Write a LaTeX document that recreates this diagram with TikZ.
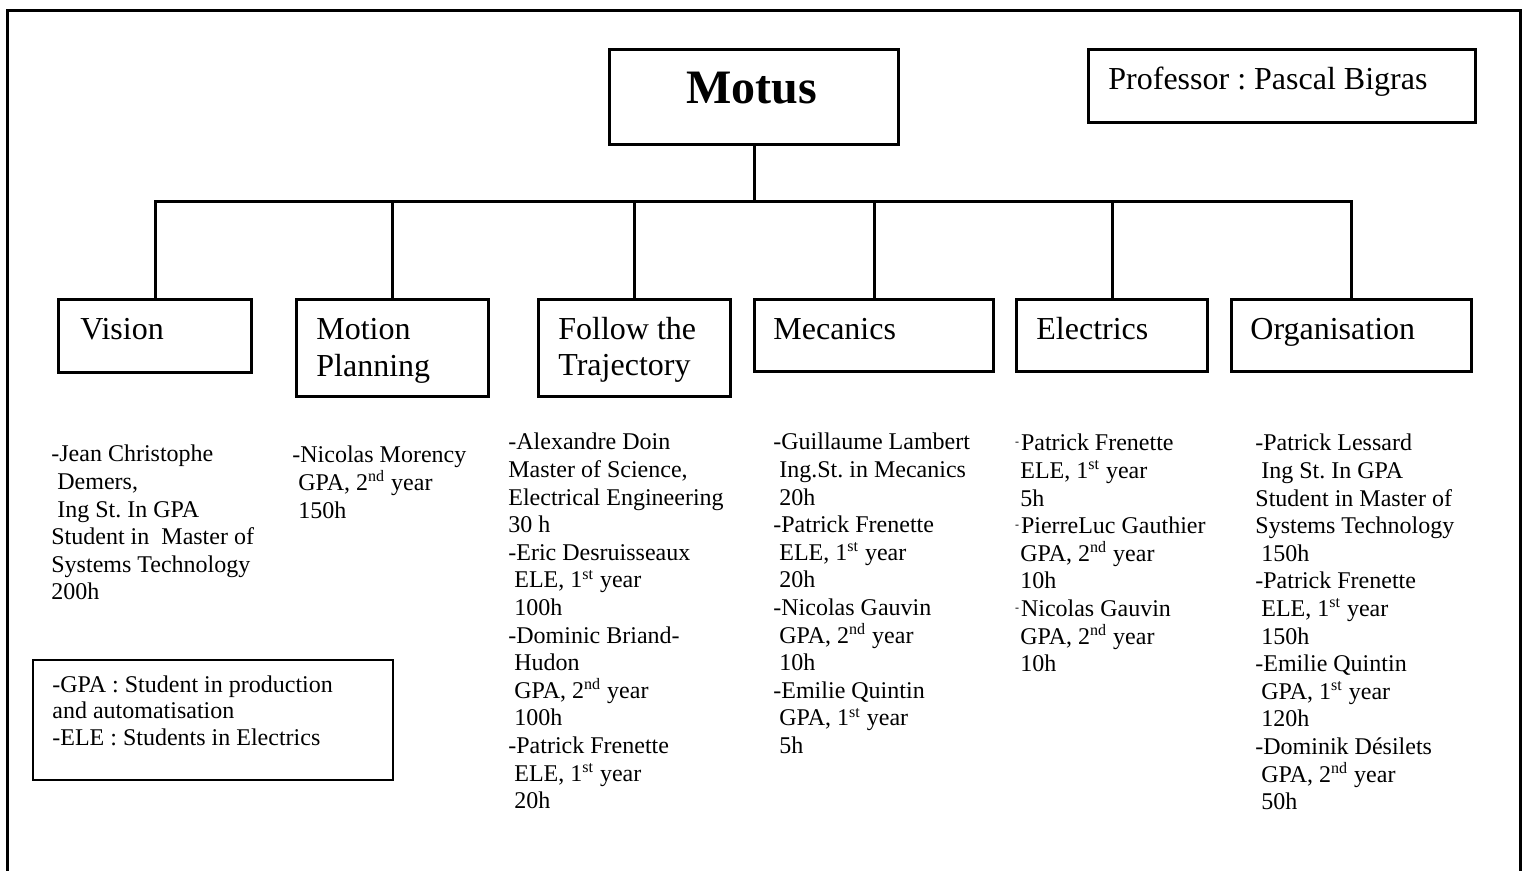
\documentclass[tikz,border=0pt]{standalone}
\usepackage{fontspec}
\setmainfont{Liberation Serif}
\usetikzlibrary{calc}
\frenchspacing
\newcommand\stackl[2]{\vtop{\baselineskip=#1\lineskiplimit=-\maxdimen\lineskip=0pt\relax #2}}
\newcommand\lh[1]{\hbox{#1}}
\newcommand\supnd{\textsuperscript{nd}}
\newcommand\supst{\textsuperscript{st}}
\newcommand\sdash{\makebox[3.3pt][l]{\hspace{0.3pt}\raisebox{2.6pt}{\fontsize{6pt}{6pt}\selectfont -}}}
\tikzset{
  box/.style={draw, line width=1.5pt, inner sep=0pt, anchor=north west},
  lbl/.style={font=\fontsize{16pt}{18.5pt}\selectfont, inner sep=0pt, anchor=base west},
  txt/.style={font=\fontsize{12pt}{13.8pt}\selectfont, inner sep=0pt, anchor=base west},
  wire/.style={line width=1.5pt, line join=miter, line cap=rect},
  frame/.style={line width=1.5pt, line join=miter}
}
\begin{document}
\begin{tikzpicture}[x=0.5pt, y=-0.5pt]
\useasboundingbox (0,0) rectangle (1527,871);
\fill[white] (0,0) rectangle (1527,871);
% outer frame (no bottom edge visible)
\coordinate (fbl) at (7,880);
\coordinate (ftl) at (7,11);
\coordinate (ftr) at (1520,11);
\coordinate (fbr) at (1520,880);
\draw[frame] (fbl) -- (ftl) -- (ftr) -- (fbr);

% top boxes
\node[box, minimum width=144.5pt, minimum height=47.5pt] (motus) at (608,48) {};
\node[font=\fontsize{24pt}{28pt}\selectfont\bfseries, inner sep=0pt, anchor=base] (motuslbl) at (752,104) {Motus};
\node[box, minimum width=193.5pt, minimum height=36.5pt] (prof) at (1087,48) {};
\node[lbl] (proflbl) at (1108,90) {Professor : Pascal Bigras};

% category boxes
\node[box, minimum width=96.5pt, minimum height=36.5pt] (vision) at (57,298) {};
\node[box, minimum width=96pt, minimum height=48.5pt] (motion) at (295,298) {};
\node[box, minimum width=96pt, minimum height=48.5pt] (follow) at (537,298) {};
\node[box, minimum width=119.5pt, minimum height=36pt] (meca) at (753,298) {};
\node[box, minimum width=95.5pt, minimum height=36pt] (elec) at (1015,298) {};
\node[box, minimum width=120pt, minimum height=36pt] (orga) at (1230,298) {};

\node[lbl] (visionlbl) at (80,340) {Vision};
\node[lbl] (motionlbl) at (316,340) {\stackl{18.5pt}{\lh{Motion}\lh{Planning}}};
\node[lbl] (followlbl) at (558,340) {\stackl{18pt}{\lh{Follow the}\lh{Trajectory}}};
\node[lbl] (mecalbl) at (773,340) {Mecanics};
\node[lbl] (eleclbl) at (1036,340) {Electrics};
\node[lbl] (orgalbl) at (1250,340) {Organisation};

% connectors
\coordinate (bus) at (752,202);
\draw[wire] (motus.south) -- (motus.south |- bus);
\draw[wire] (vision.north) -- (vision.north |- bus) -- (orga.north |- bus) -- (orga.north);
\draw[wire] (motion.north) -- (motion.north |- bus);
\draw[wire] (follow.north) -- (follow.north |- bus);
\draw[wire] (meca.north) -- (meca.north |- bus);
\draw[wire] (elec.north) -- (elec.north |- bus);

% member lists
\node[txt] (visiontxt) at (51,462) {\stackl{13.8pt}{%
\lh{-Jean Christophe}
\lh{\ Demers,}
\lh{\ Ing St. In GPA}
\lh{Student in\ \ Master of}
\lh{Systems Technology}
\lh{200h}}};

\node[txt] (motiontxt) at (292,463) {\stackl{13.8pt}{%
\lh{-Nicolas Morency}
\lh{\ GPA, 2\supnd{} year}
\lh{\ 150h}}};

\node[txt] (followtxt) at (508,450) {\stackl{13.8pt}{%
\lh{-Alexandre Doin}
\lh{Master of Science,}
\lh{Electrical Engineering}
\lh{30 h}
\lh{-Eric Desruisseaux}
\lh{\ ELE, 1\supst{} year}
\lh{\ 100h}
\lh{-Dominic Briand-}
\lh{\ Hudon}
\lh{\ GPA, 2\supnd{} year}
\lh{\ 100h}
\lh{-Patrick Frenette}
\lh{\ ELE, 1\supst{} year}
\lh{\ 20h}}};

\node[txt] (mecatxt) at (773,450) {\stackl{13.8pt}{%
\lh{-Guillaume Lambert}
\lh{\ Ing.St. in Mecanics}
\lh{\ 20h}
\lh{-Patrick Frenette}
\lh{\ ELE, 1\supst{} year}
\lh{\ 20h}
\lh{-Nicolas Gauvin}
\lh{\ GPA, 2\supnd{} year}
\lh{\ 10h}
\lh{-Emilie Quintin}
\lh{\ GPA, 1\supst{} year}
\lh{\ 5h}}};

\node[txt] (electxt) at (1014,451) {\stackl{13.8pt}{%
\lh{\sdash Patrick Frenette}
\lh{\ ELE, 1\supst{} year}
\lh{\ 5h}
\lh{\sdash PierreLuc Gauthier}
\lh{\ GPA, 2\supnd{} year}
\lh{\ 10h}
\lh{\sdash Nicolas Gauvin}
\lh{\ GPA, 2\supnd{} year}
\lh{\ 10h}}};

\node[txt] (orgatxt) at (1255,451) {\stackl{13.8pt}{%
\lh{-Patrick Lessard}
\lh{\ Ing St. In GPA}
\lh{Student in Master of}
\lh{Systems Technology}
\lh{\ 150h}
\lh{-Patrick Frenette}
\lh{\ ELE, 1\supst{} year}
\lh{\ 150h}
\lh{-Emilie Quintin}
\lh{\ GPA, 1\supst{} year}
\lh{\ 120h}
\lh{-Dominik Désilets}
\lh{\ GPA, 2\supnd{} year}
\lh{\ 50h}}};

% legend
\node[draw, line width=1pt, inner sep=0pt, anchor=north west, minimum width=180pt, minimum height=60pt] (legend) at (32,659) {};
\node[txt] (legendtxt) at (52,692) {\stackl{13.3pt}{%
\lh{-GPA : Student in production}
\lh{and automatisation}
\lh{-ELE : Students in Electrics}}};
\end{tikzpicture}
\end{document}
